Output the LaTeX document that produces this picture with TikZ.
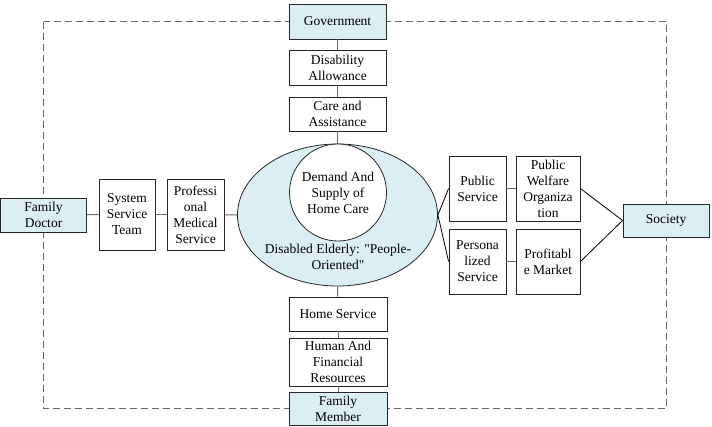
\documentclass[tikz,border=0pt]{standalone}
\usepackage{fontspec}
\setmainfont{Liberation Serif}
\newfontfamily\tnr{Liberation Serif}
\usetikzlibrary{shapes.geometric}
\definecolor{lblue}{HTML}{DAEEF3}
\begin{document}
\begin{tikzpicture}[x=1pt,y=-1pt,
  every node/.style={font=\tnr\fontsize{13.5}{16}\selectfont, align=center, inner sep=0pt},
  box/.style={draw=black!85, line width=0.8pt, fill=white},
  bluebox/.style={box, fill=lblue},
  conn/.style={draw=black!60, line width=1pt},
  bconn/.style={draw=black, line width=0.8pt},
  frame/.style={draw=black!60, line width=0.8pt, dash pattern=on 7pt off 4pt}]
\useasboundingbox (0,0) rectangle (712,426);
\coordinate (tl) at (43.5,21.5);
\coordinate (br) at (666,408.5);
\draw[frame] (tl) rectangle (br);

% central ellipse
\node[ellipse, draw=black!85, line width=0.8pt, fill=lblue, minimum width=200pt, minimum height=142pt] (ell) at (337.5,215) {};
\node[circle, draw=black!85, line width=0.8pt, fill=white, minimum size=97pt] (inner) at (338,192.5) {};
\node (innertxt) at (338,193) {Demand And\\Supply of\\Home Care};
\node (eldtxt) at (338,256.5) {Disabled Elderly: \textquotedbl People-\\Oriented\textquotedbl};

% vertical column
\node[bluebox, minimum width=97pt, minimum height=35pt] (gov) at (337.5,21.5) {Government};
\node[box, minimum width=97pt, minimum height=35pt] (dis) at (337.5,67.5) {Disability\\Allowance};
\node[box, minimum width=97pt, minimum height=34pt] (care) at (337.5,114) {Care and\\Assistance};
\node[box, minimum width=98pt, minimum height=34pt] (home) at (338,314) {Home Service};
\node[box, minimum width=98pt, minimum height=48pt] (hfr) at (338,362) {Human And\\Financial\\Resources};
\node[bluebox, minimum width=98pt, minimum height=33pt] (fam) at (338,408.5) {Family\\Member};

% left row
\node[bluebox, minimum width=86pt, minimum height=34pt] (doc) at (43.5,215) {Family\\Doctor};
\node[box, minimum width=56pt, minimum height=71pt] (sst) at (127,214.5) {System\\Service\\Team};
\node[box, minimum width=57pt, minimum height=71pt] (pms) at (195.5,214.5) {Professi\\onal\\Medical\\Service};

% right block
\node[box, minimum width=57pt, minimum height=65pt] (pubs) at (477.5,188.5) {Public\\Service};
\node[box, minimum width=64pt, minimum height=65pt] (pwo) at (548,188.5) {Public\\Welfare\\Organiza\\tion};
\node[box, minimum width=57pt, minimum height=65pt] (pers) at (477.5,261.5) {Persona\\lized\\Service};
\node[box, minimum width=64pt, minimum height=65pt] (prof) at (548,261.5) {Profitabl\\e Market};
\node[bluebox, minimum width=86pt, minimum height=33pt] (soc) at (666,220.5) {Society};

% connectors
\draw[conn] (gov) -- (dis);
\draw[conn] (dis) -- (care);
\draw[conn] (care) -- (ell.north);
\draw[conn] (ell.south) -- (home);
\draw[conn] (home) -- (hfr);
\draw[conn] (hfr) -- (fam);
\draw[conn] (doc) -- (sst);
\draw[conn] (sst) -- (pms);
\draw[conn] (pms) -- (ell.west);
\draw[bconn] (ell.east) -- (pubs.west);
\draw[bconn] (ell.east) -- (pers.west);
\draw[conn] (pubs) -- (pwo);
\draw[conn] (pers) -- (prof);
\draw[bconn] (pwo.east) -- (soc.west);
\draw[bconn] (prof.east) -- (soc.west);
\end{tikzpicture}
\end{document}
